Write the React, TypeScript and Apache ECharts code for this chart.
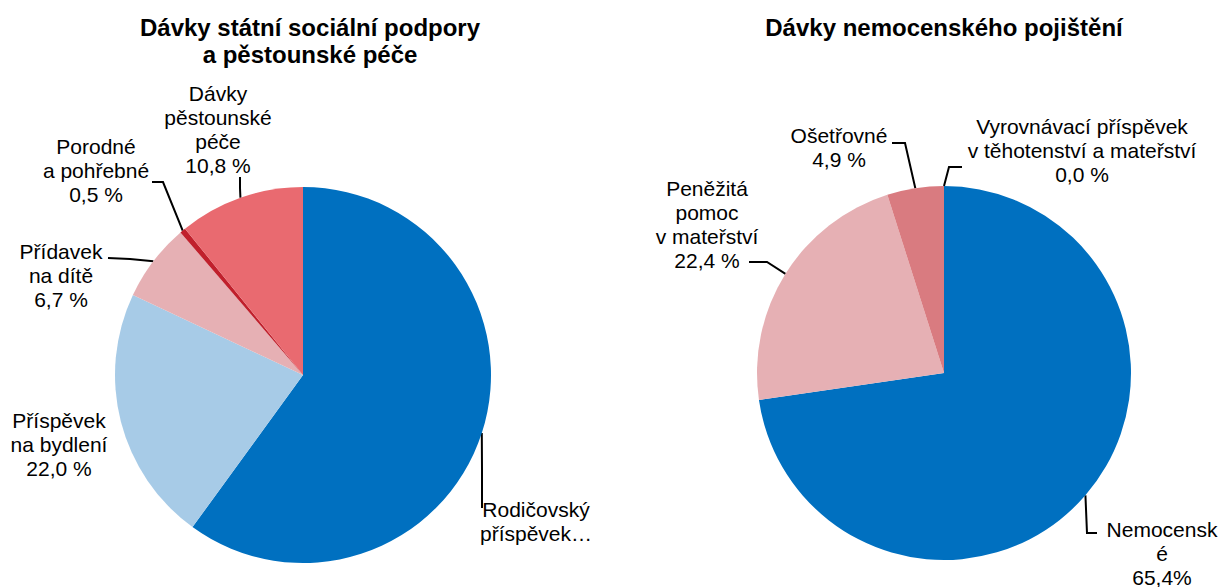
import React, { useEffect, useRef } from "react";
import * as echarts from "echarts";

const leftTitle = "Dávky státní sociální podpory\na pěstounské péče";
const rightTitle = "Dávky nemocenského pojištění";

const leftNames = [
  "Rodičovský příspěvek",
  "Příspěvek na bydlení",
  "Přídavek na dítě",
  "Porodné a pohřebné",
  "Dávky pěstounské péče",
];
const leftValues = [60.0, 22.0, 6.7, 0.5, 10.8];
const leftLabels = [
  "Rodičovský\npříspěvek…",
  "Příspěvek\nna bydlení\n22,0 %",
  "Přídavek\nna dítě\n6,7 %",
  "Porodné\na pohřebné\n0,5 %",
  "Dávky\npěstounské\npéče\n10,8 %",
];
const leftColors = ["#0070C0", "#A7CBE7", "#E6B0B4", "#C0202C", "#E96A70"];

const rightNames = [
  "Nemocenské",
  "Peněžitá pomoc v mateřství",
  "Ošetřovné",
  "Vyrovnávací příspěvek v těhotenství a mateřství",
];
const rightValues = [72.7, 22.4, 4.9, 0.0];
const rightLabels = [
  "Nemocensk\né\n65,4%",
  "Peněžitá\npomoc\nv mateřství\n22,4 %",
  "Ošetřovné\n4,9 %",
  "Vyrovnávací příspěvek\nv těhotenství a mateřství\n0,0 %",
];
const rightColors = ["#0070C0", "#E6B0B4", "#D97B80", "#C0202C"];

// layout of labels (center positions) and label-line bend points
const leftLayout = [
  { x: 536, y: 521, pts: [[482, 470], [482, 508]], line: true },
  { x: 59, y: 444, pts: [], line: false },
  { x: 61, y: 275, pts: [[130, 259], [108, 258]], line: true },
  { x: 96, y: 170, pts: [[163, 182], [152, 182]], line: true },
  { x: 218, y: 129, pts: [[240, 188], [240, 177]], line: true },
];
const rightLayout = [
  { x: 1162, y: 553, pts: [[1087, 533], [1097, 533]], line: true },
  { x: 707, y: 224, pts: [[767, 262], [749, 262]], line: true },
  { x: 839, y: 147, pts: [[905, 143], [892, 143]], line: true },
  { x: 1082, y: 150, pts: [[949, 167], [962, 167]], line: true },
];

const FONT = "'Liberation Sans', Arial, Helvetica, sans-serif";

function edgePoint(values: number[], i: number, cx: number, cy: number, r: number) {
  const total = values.reduce((a, b) => a + b, 0);
  let cum = 0;
  for (let k = 0; k < i; k++) cum += values[k];
  const a = ((cum + values[i] / 2) / total) * Math.PI * 2;
  return [cx + r * Math.sin(a), cy - r * Math.cos(a)];
}

function makeSeries(
  names: string[],
  values: number[],
  labels: string[],
  colors: string[],
  layout: any[],
  cx: number,
  cy: number,
  r: number
) {
  return {
    type: "pie",
    center: [cx, cy],
    radius: r,
    startAngle: 90,
    clockwise: true,
    avoidLabelOverlap: false,
    silent: true,
    itemStyle: { borderWidth: 0 },
    label: {
      show: true,
      position: "outside",
      color: "#000",
      fontFamily: FONT,
      fontSize: 21,
      lineHeight: 24,
      align: "center",
      formatter: (p: any) => labels[p.dataIndex],
    },
    labelLine: {
      show: true,
      lineStyle: { color: "#000", width: 2 },
    },
    labelLayout: (p: any) => {
      const L = layout[p.dataIndex];
      return {
        x: L.x,
        y: L.y,
        align: "center",
        verticalAlign: "middle",
        labelLinePoints: L.line ? [edgePoint(values, p.dataIndex, cx, cy, r), ...L.pts] : undefined,
      };
    },
    data: names.map((n, i) => ({
      name: n,
      value: values[i],
      itemStyle: { color: colors[i] },
      labelLine: { show: layout[i].line },
    })),
  };
}

export default function App() {
  const ref = useRef<HTMLDivElement>(null);
  useEffect(() => {
    document.body.style.margin = "0";
    if (!ref.current) return;
    const chart = echarts.init(ref.current, undefined, { renderer: "svg" });
    chart.setOption({
      animation: false,
      backgroundColor: "#ffffff",
      graphic: [
        {
          type: "text",
          x: 310,
          y: 14,
          style: {
            text: leftTitle,
            fill: "#000",
            font: `bold 24px ${FONT}`,
            lineHeight: 27,
            textAlign: "center",
            textVerticalAlign: "top",
          },
        },
        {
          type: "text",
          x: 944,
          y: 14,
          style: {
            text: rightTitle,
            fill: "#000",
            font: `bold 24px ${FONT}`,
            lineHeight: 27,
            textAlign: "center",
            textVerticalAlign: "top",
          },
        },
      ],
      series: [
        makeSeries(leftNames, leftValues, leftLabels, leftColors, leftLayout, 303, 375, 188),
        makeSeries(rightNames, rightValues, rightLabels, rightColors, rightLayout, 944, 373, 187),
      ],
    });
    return () => chart.dispose();
  }, []);
  return <div ref={ref} style={{ width: 1221, height: 587 }} />;
}
